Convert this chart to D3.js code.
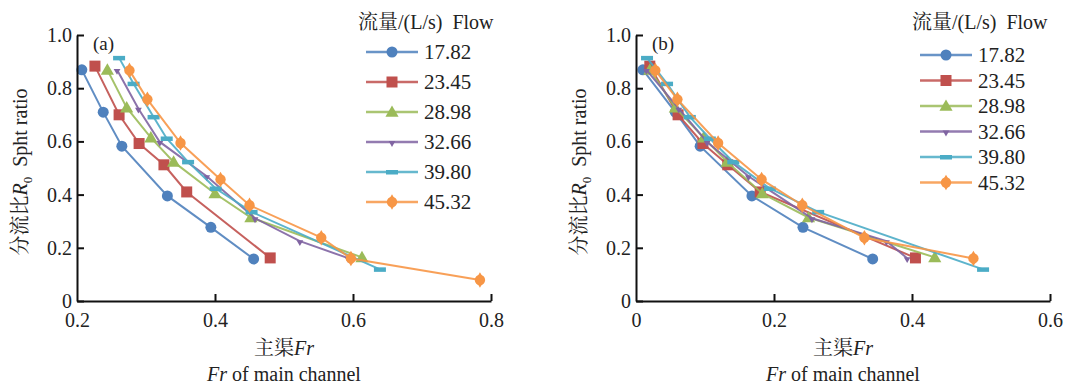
<!DOCTYPE html>
<html>
<head>
<meta charset="utf-8">
<script src="https://cdn.jsdelivr.net/npm/d3@7"></script>
<style>
  body { margin: 0; background: #fff; }
  svg text { font-family: "Liberation Serif", "Times New Roman", "DejaVu Serif", serif; fill: #222; }
  svg .cjk { font-family: "Noto Serif CJK SC", "Noto Sans CJK SC", sans-serif; }
</style>
</head>
<body>
<div id="chart"></div>
<script>
// 流量 series (L/s)
const flows = ['17.82', '23.45', '28.98', '32.66', '39.80', '45.32'];
const colors = ['#4f81bd', '#c0504d', '#9bbb59', '#8064a2', '#4bacc6', '#f79646'];

// split ratio R0, one array per flow
const ratio1782 = [0.869, 0.710, 0.582, 0.395, 0.277, 0.158];
const ratio2345 = [0.883, 0.700, 0.592, 0.512, 0.410, 0.162];
const ratio2898 = [0.869, 0.727, 0.614, 0.523, 0.404, 0.314, 0.164];
const ratio3266 = [0.869, 0.723, 0.598, 0.469, 0.311, 0.225, 0.161];
const ratio3980 = [0.914, 0.817, 0.692, 0.611, 0.523, 0.423, 0.335, 0.119];
const ratio4532 = [0.867, 0.758, 0.594, 0.457, 0.360, 0.238, 0.160, 0.079];

// (a) main channel Fr
const frA1782 = [0.207, 0.238, 0.265, 0.331, 0.394, 0.456];
const frA2345 = [0.226, 0.261, 0.290, 0.326, 0.359, 0.480];
const frA2898 = [0.244, 0.272, 0.307, 0.340, 0.400, 0.452, 0.613];
const frA3266 = [0.258, 0.289, 0.320, 0.388, 0.458, 0.523, 0.593];
const frA3980 = [0.261, 0.282, 0.311, 0.330, 0.361, 0.401, 0.453, 0.639];
const frA4532 = [0.276, 0.302, 0.350, 0.408, 0.450, 0.554, 0.597, 0.784];

// (b) main channel Fr
const frB1782 = [0.010, 0.057, 0.093, 0.168, 0.242, 0.343];
const frB2345 = [0.020, 0.061, 0.097, 0.133, 0.180, 0.405];
const frB2898 = [0.020, 0.057, 0.098, 0.132, 0.183, 0.250, 0.433];
const frB3266 = [0.015, 0.062, 0.103, 0.163, 0.255, 0.363, 0.393];
const frB3980 = [0.016, 0.045, 0.078, 0.107, 0.141, 0.194, 0.264, 0.503];
const frB4532 = [0.028, 0.060, 0.119, 0.182, 0.241, 0.331, 0.489];

const xTicksA = [0.2, 0.4, 0.6, 0.8];
const xTicksB = [0, 0.2, 0.4, 0.6];
const yTicks = [0, 0.2, 0.4, 0.6, 0.8, 1.0];

const ratios = [ratio1782, ratio2345, ratio2898, ratio3266, ratio3980, ratio4532];
const frA = [frA1782, frA2345, frA2898, frA3266, frA3980, frA4532];
const frB = [frB1782, frB2345, frB2898, frB3266, frB3980, frB4532];

const W = 1070, H = 385;
const serif = '"Liberation Serif", "Times New Roman", "DejaVu Serif", serif';
const svg = d3.select('#chart').append('svg')
  .attr('width', W).attr('height', H);

// marker shapes per series
function drawMarker(g, i, x, y, c) {
  if (i === 0) {
    g.append('circle').attr('cx', x).attr('cy', y).attr('r', 5.5).attr('fill', c);
  } else if (i === 1) {
    g.append('rect').attr('x', x - 5.5).attr('y', y - 5.5).attr('width', 11).attr('height', 11).attr('fill', c);
  } else if (i === 2) {
    g.append('path').attr('transform', `translate(${x},${y + 1})`)
      .attr('d', d3.symbol(d3.symbolTriangle, 75)()).attr('fill', c);
  } else if (i === 3) {
    g.append('path').attr('transform', `translate(${x},${y + 1}) rotate(180)`)
      .attr('d', d3.symbol(d3.symbolTriangle, 20)()).attr('fill', c);
  } else if (i === 4) {
    g.append('rect').attr('x', x - 6).attr('y', y - 2).attr('width', 12).attr('height', 4.5).attr('fill', c);
  } else {
    g.append('path').attr('transform', `translate(${x},${y})`)
      .attr('d', d3.symbol(d3.symbolCircle, 85)()).attr('fill', c);
    g.append('path').attr('transform', `translate(${x},${y})`)
      .attr('d', d3.symbol(d3.symbolDiamond, 70)()).attr('fill', c);
  }
}

function panel(cfg) {
  const x = d3.scaleLinear().domain(cfg.xDomain).range([cfg.left, cfg.left + 414]);
  const y = d3.scaleLinear().domain([0, 1]).range([301, 35]);
  const g = svg.append('g');

  // series
  const line = d3.line().x(d => x(d[0])).y(d => y(d[1]));
  cfg.fr.forEach((xs, i) => {
    const pts = xs.map((v, k) => [v, cfg.ratio[i][k]]);
    const sg = g.append('g');
    sg.append('path').datum(pts)
      .attr('d', line)
      .attr('fill', 'none')
      .attr('stroke', colors[i])
      .attr('stroke-width', 2)
      .attr('stroke-opacity', 0.9);
    pts.forEach(p => drawMarker(sg, i, x(p[0]), y(p[1]), colors[i]));
  });

  // axes, ticks inside
  const xAxis = g.append('g').attr('transform', 'translate(0,301)')
    .call(d3.axisBottom(x).tickValues(cfg.xTicks).tickSizeInner(-7).tickSizeOuter(0)
      .tickFormat(d => d === 0 ? '0' : d3.format('.1f')(d)));
  const yAxis = g.append('g').attr('transform', `translate(${cfg.left},0)`)
    .call(d3.axisLeft(y).tickValues(yTicks).tickSizeInner(-7).tickSizeOuter(0)
      .tickFormat(d => d === 0 ? '0' : d3.format('.1f')(d)));
  [xAxis, yAxis].forEach(a => {
    a.attr('font-family', null).attr('font-size', null);
    a.select('.domain').attr('stroke', '#111').attr('stroke-width', 2);
    a.selectAll('.tick line').attr('stroke', '#111').attr('stroke-width', 2);
    a.selectAll('.tick text').style('font-size', '20px').style('font-family', serif).attr('fill', '#222');
  });
  xAxis.selectAll('.tick text').attr('dy', '1.15em');
  yAxis.selectAll('.tick text').attr('dx', '-0.1em');
  xAxis.selectAll('.tick').filter(d => d === cfg.xTicks[0]).select('line').remove();

  g.append('text').attr('x', cfg.left + 16).attr('y', 50)
    .style('font-size', '19px').text(cfg.tag);

  // axis titles
  const cx = cfg.left + 207;
  const t1 = g.append('text').attr('x', cx).attr('y', 355)
    .attr('text-anchor', 'middle').style('font-size', '20px');
  t1.append('tspan').attr('class', 'cjk').text('主渠');
  t1.append('tspan').style('font-style', 'italic').text('Fr');
  const t2 = g.append('text').attr('x', cx).attr('y', 381)
    .attr('text-anchor', 'middle').style('font-size', '20px');
  t2.append('tspan').style('font-style', 'italic').text('Fr');
  t2.append('tspan').text(' of main channel');

  const yl = g.append('text')
    .attr('transform', `translate(${cfg.left - 50},172) rotate(-90)`)
    .attr('text-anchor', 'middle').style('font-size', '20px');
  yl.append('tspan').attr('class', 'cjk').text('分流比');
  yl.append('tspan').style('font-style', 'italic').text('R');
  yl.append('tspan').attr('dy', 5).style('font-size', '13px').text('0');
  yl.append('tspan').attr('dy', -5).text('\u2002Spht ratio');

  // legend
  const lg = g.append('g');
  const lt = lg.append('text').attr('x', cfg.legX - 8).attr('y', cfg.legTitleY)
    .style('font-size', '20px');
  lt.append('tspan').attr('class', 'cjk').text('流量');
  lt.append('tspan').text('/(L/s)\u2002Flow');
  flows.forEach((f, i) => {
    const ly = cfg.legY0 + i * cfg.legStep;
    lg.append('line').attr('x1', cfg.legX).attr('x2', cfg.legX + 52)
      .attr('y1', ly).attr('y2', ly)
      .attr('stroke', colors[i]).attr('stroke-width', 2.5).attr('stroke-opacity', 0.85);
    drawMarker(lg, i, cfg.legX + 26, ly, colors[i]);
    lg.append('text').attr('x', cfg.legX + 58).attr('y', ly + 7)
      .style('font-size', '21px').text(f);
  });
}

panel({ left: 77, xDomain: [0.2, 0.8], xTicks: xTicksA, fr: frA, ratio: ratios, tag: '(a)',
  legX: 366, legTitleY: 29, legY0: 52, legStep: 30 });
panel({ left: 636, xDomain: [0, 0.6], xTicks: xTicksB, fr: frB,
  ratio: ratios.map((r, i) => r.slice(0, frB[i].length)), tag: '(b)',
  legX: 920, legTitleY: 29, legY0: 55, legStep: 25.5 });
</script>
</body>
</html>
